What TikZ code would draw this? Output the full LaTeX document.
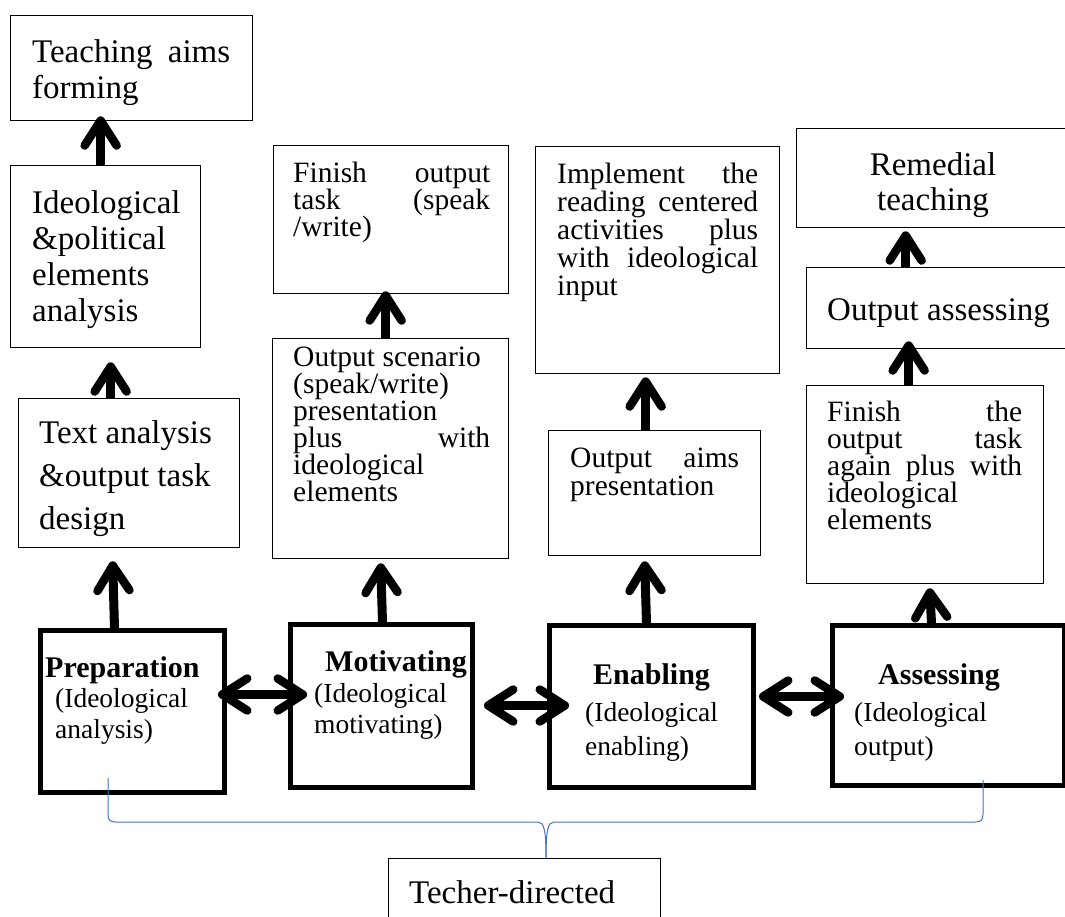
\documentclass[tikz,border=0pt]{standalone}
\usepackage{fontspec}
\setmainfont{Liberation Serif}
\usetikzlibrary{arrows.meta,calc}
\definecolor{braceblue}{HTML}{4472C4}
\newcommand\fBig{\fontsize{33}{36}\selectfont}
\newcommand\fSm{\fontsize{29.5}{27}\selectfont}
\newcommand\fBd{\fontsize{30}{34}\selectfont\bfseries}
\newcommand\fPar{\fontsize{27.5}{31}\selectfont}
\newcommand\jl[2]{\makebox[#1][s]{#2}}
\newcommand\lines[1]{\parbox[t]{260pt}{\raggedright #1}}
\lineskiplimit=-100pt
\lineskip=0pt
\begin{document}
\begin{tikzpicture}[x=1pt,y=-1pt,
  thinbox/.style={draw, line width=1.3pt, inner sep=0pt, anchor=north west},
  thickbox/.style={draw, line width=5pt, inner sep=0pt, anchor=north west},
  txt/.style={anchor=base west, inner sep=0pt},
  barb/.tip={Straight Barb[length=25pt,width=32pt,line width=8.5pt,round]},
  uparr/.style={line width=9pt, -barb},
  dblarr/.style={line width=9pt, barb-barb},
  bracestyle/.style={draw=braceblue, line width=1pt}]
\useasboundingbox (0,0) rectangle (1065,916);

% column 1
\node[thinbox, minimum width=242pt, minimum height=105pt] (A1) at (10,15) {};
\node[thinbox, minimum width=190pt, minimum height=182pt] (A2) at (10,165) {};
\node[thinbox, minimum width=221pt, minimum height=149pt] (A3) at (18,398) {};
\node[thickbox, minimum width=184pt, minimum height=162pt] (P) at (38,628) {};
% column 2
\node[thinbox, minimum width=235pt, minimum height=148pt] (B1) at (273,145) {};
\node[thinbox, minimum width=236pt, minimum height=220pt] (B2) at (272,338) {};
\node[thickbox, minimum width=182pt, minimum height=163pt] (M) at (288,622) {};
% column 3
\node[thinbox, minimum width=244pt, minimum height=227pt] (C1) at (535,146) {};
\node[thinbox, minimum width=212pt, minimum height=125pt] (C2) at (548,430) {};
\node[thickbox, minimum width=204pt, minimum height=162pt] (E) at (547,623) {};
% column 4
\node[thinbox, minimum width=279pt, minimum height=99pt] (D1) at (796,128) {};
\node[thinbox, minimum width=269pt, minimum height=81pt] (D2) at (806,267) {};
\node[thinbox, minimum width=237pt, minimum height=198pt] (D3) at (806,385) {};
\node[thickbox, minimum width=232pt, minimum height=160pt] (S) at (830,623) {};
% bottom
\node[thinbox, minimum width=272pt, minimum height=82pt] (T) at (388,858) {};

% texts
\node[txt, font=\fBig] (tA1) at (32,62) {\lines{\jl{198pt}{Teaching aims}\\forming}};
\node[txt, font=\fBig] (tA2) at (32,213) {\lines{Ideological\\\&political\\elements\\analysis}};
\node[txt, font=\fontsize{33}{43}\selectfont] (tA3) at (39,443) {\lines{Text analysis\\\&output task\\design}};
\node[txt, font=\fBd] (tP) at (45,677) {Preparation};
\node[txt, font=\fPar] (tP2) at (55,707) {\lines{(Ideological\\analysis)}};

\node[txt, font=\fSm] (tB1) at (293,182) {\lines{\jl{197pt}{Finish output}\\\jl{197pt}{task (speak}\\/write)}};
\node[txt, font=\fSm] (tB2) at (293,366) {\lines{Output scenario\\(speak/write)\\presentation\\\jl{197pt}{plus with}\\ideological\\elements}};
\node[txt, font=\fBd] (tM) at (325,671) {Motivating};
\node[txt, font=\fPar] (tM2) at (314,702) {\lines{(Ideological\\motivating)}};

\node[txt, font=\fontsize{29.5}{28}\selectfont] (tC1) at (557,183) {\lines{\jl{201pt}{Implement the}\\\jl{201pt}{reading centered}\\\jl{201pt}{activities plus}\\\jl{201pt}{with ideological}\\input}};
\node[txt, font=\fontsize{29.5}{28}\selectfont] (tC2) at (570,467) {\lines{\jl{169pt}{Output aims}\\presentation}};
\node[txt, font=\fBd] (tE) at (593,684) {Enabling};
\node[txt, font=\fontsize{27.5}{34}\selectfont] (tE2) at (585,721) {\lines{(Ideological\\enabling)}};

\node[anchor=base, inner sep=0pt, font=\fontsize{33}{35}\selectfont] (tD1) at (933,175) {\parbox[t]{200pt}{\centering Remedial\\teaching}};
\node[txt, font=\fBig] (tD2) at (827,320) {Output assessing};
\node[txt, font=\fontsize{29.5}{27}\selectfont] (tD3) at (827,421) {\lines{\jl{195pt}{Finish the}\\\jl{195pt}{output task}\\\jl{195pt}{again plus with}\\ideological\\elements}};
\node[txt, font=\fBd] (tS) at (878,684) {Assessing};
\node[txt, font=\fontsize{27.5}{34}\selectfont] (tS2) at (854,721) {\lines{(Ideological\\output)}};

\node[txt, font=\fBig] (tT) at (409,903) {Techer-directed};

% vertical arrows
\draw[uparr] ([xshift=-18pt]P.north) -- ([xshift=-16.5pt,yshift=-13pt]A3.south);
\draw[uparr] ([xshift=-18.5pt]A3.north) -- ([xshift=5pt,yshift=-14pt]A2.south);
\draw[uparr] ([xshift=-5pt]A2.north) -- ([xshift=-31pt,yshift=5pt]A1.south);
\draw[uparr] ([xshift=-5pt]B2.north) -- ([xshift=-5.5pt,yshift=3pt]B1.south);
\draw[uparr] ([xshift=1pt]M.north) -- ([xshift=-10pt,yshift=-4pt]B2.south);
\draw[uparr] ([xshift=-9pt]C2.north) -- ([xshift=-12pt,yshift=-3pt]C1.south);
\draw[uparr] ([xshift=-5pt]E.north) -- ([xshift=-10pt,yshift=-5pt]C2.south);
\draw[uparr] ([xshift=-35.5pt]D2.north) -- ([xshift=-30.5pt,yshift=-3pt]D1.south);
\draw[uparr] ([xshift=-16.5pt]D3.north) -- ([xshift=-32.5pt,yshift=8pt]D2.south);
\draw[uparr] ([xshift=-17pt]S.north) -- ([xshift=4.5pt,yshift=-4pt]D3.south);

% horizontal double arrows
\draw[dblarr] ([xshift=-9pt,yshift=17pt]P.east) -- ([xshift=19pt,yshift=11.5pt]M.west);
\draw[dblarr] ([xshift=9pt,yshift=0.5pt]M.east) -- ([xshift=22pt,yshift=1pt]E.west);
\draw[dblarr] ([xshift=3pt,yshift=10pt]E.east) -- ([xshift=14pt,yshift=9pt]S.west);

% brace
\coordinate (bL) at (108,778);
\coordinate (bR) at (983,780);
\coordinate (bTip) at (546,858);
\draw[bracestyle] (bL) -- (108,814) .. controls (108,820) and (110,822) .. (116,822)
  -- (538,822) .. controls (544,822) and (546,830) .. (bTip);
\draw[bracestyle] (bR) -- (983,814) .. controls (983,820) and (981,822) .. (975,822)
  -- (554,822) .. controls (548,822) and (546,830) .. (bTip);
\end{tikzpicture}
\end{document}
